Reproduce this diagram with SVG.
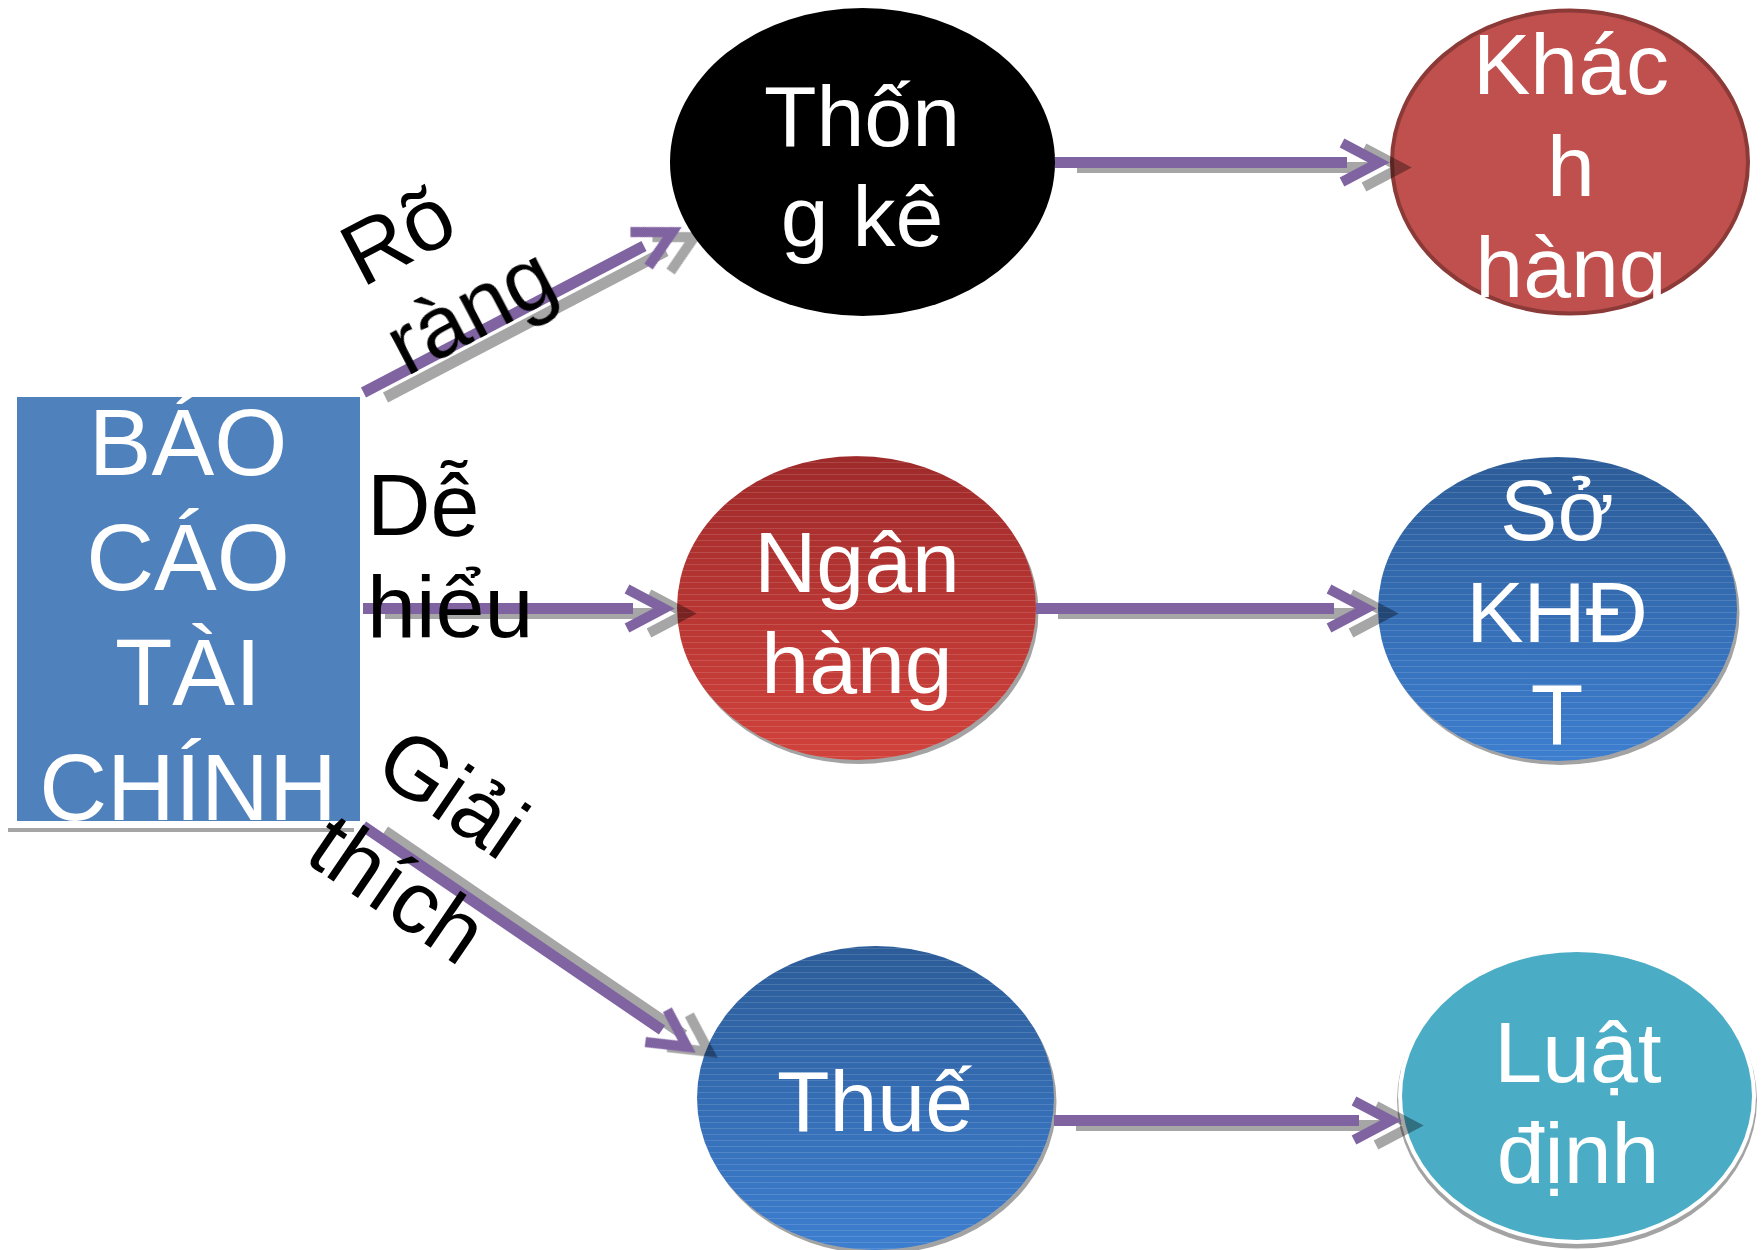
<svg xmlns="http://www.w3.org/2000/svg" xmlns:xlink="http://www.w3.org/1999/xlink" width="1764" height="1250" viewBox="0 0 1764 1250">
<defs>
<style>
.lbl{font-family:"Liberation Sans",Arial,sans-serif;font-size:88px;fill:#000}
.nt{font-family:"Liberation Sans",Arial,sans-serif;font-size:86px;fill:#fff;text-anchor:middle}
.bt{font-family:"Liberation Sans",Arial,sans-serif;font-size:94px;fill:#fff;text-anchor:middle}
.ln{stroke:#8064a2;stroke-width:11;fill:none}
.ch{stroke:#8064a2;stroke-width:10;fill:none;stroke-linejoin:miter;stroke-miterlimit:10}
.sh{opacity:0.35}
.sh line{stroke:#000;stroke-width:11;fill:none}
.sh use{stroke:#000;stroke-width:10;fill:none;stroke-linejoin:miter;stroke-miterlimit:10}
.shd{fill:#a3a3a3}
</style>
<path id="chev" d="M-48,-19.5 L-11,0 L-48,19.5"/>
<linearGradient id="gRed" x1="0" y1="0" x2="0" y2="1">
<stop offset="0" stop-color="#9e2a2a"/>
<stop offset="1" stop-color="#d1423c"/>
</linearGradient>
<linearGradient id="gBlue" x1="0" y1="0" x2="0" y2="1">
<stop offset="0" stop-color="#2c5c98"/>
<stop offset="1" stop-color="#3d7ecf"/>
</linearGradient>
<pattern id="stripes" patternUnits="userSpaceOnUse" width="12" height="6">
<rect x="0" y="0" width="12" height="1" fill="#fff" fill-opacity="0.13"/>
</pattern>
<clipPath id="clipKH">
<rect x="1380" y="0" width="384" height="303"/>
</clipPath>
</defs>

<g id="node-bctc">
<rect x="8" y="828" width="346" height="4" fill="#a5a5a5"/>
<rect x="17" y="397" width="343" height="424" fill="#4f81bd"/>
<text class="bt" x="188" y="475">BÁO</text>
<text class="bt" x="188" y="590">CÁO</text>
<text class="bt" x="188" y="705">TÀI</text>
<text class="bt" x="188" y="820">CHÍNH</text>
</g>

<g id="node-thongke">
<ellipse cx="862.5" cy="162" rx="192.5" ry="154" fill="#000"/>
<text class="nt" x="862" y="146">Thốn</text>
<text class="nt" x="862" y="246">g kê</text>
</g>

<g id="node-khachhang">
<ellipse cx="1570" cy="162" rx="178" ry="151.5" fill="#c0504d" stroke="#8c3a38" stroke-width="4"/>
<g clip-path="url(#clipKH)">
<text class="nt" x="1571" y="94">Khác</text>
<text class="nt" x="1571" y="196">h</text>
<text class="nt" x="1571" y="297">hàng</text>
</g>
</g>

<g id="node-nganhang">
<ellipse class="shd" cx="859" cy="612" rx="179.5" ry="152"/>
<ellipse cx="856.5" cy="608" rx="179.5" ry="152" fill="url(#gRed)"/>
<ellipse cx="856.5" cy="608" rx="179.5" ry="152" fill="url(#stripes)"/>
<text class="nt" x="857" y="592">Ngân</text>
<text class="nt" x="857" y="693">hàng</text>
</g>

<g id="node-sokhdt">
<ellipse class="shd" cx="1560" cy="613" rx="179.5" ry="152"/>
<ellipse cx="1557.5" cy="609" rx="179.5" ry="152" fill="url(#gBlue)"/>
<ellipse cx="1557.5" cy="609" rx="179.5" ry="152" fill="url(#stripes)"/>
<text class="nt" x="1557" y="540">Sở</text>
<text class="nt" x="1557" y="642">KHĐ</text>
<text class="nt" x="1557" y="744">T</text>
</g>

<g id="node-thue">
<ellipse class="shd" cx="878" cy="1102" rx="178.5" ry="152"/>
<ellipse cx="875.5" cy="1098" rx="178.5" ry="152" fill="url(#gBlue)"/>
<ellipse cx="875.5" cy="1098" rx="178.5" ry="152" fill="url(#stripes)"/>
<text class="nt" x="875" y="1131">Thuế</text>
</g>

<g id="node-luatdinh">
<ellipse cx="1577" cy="1100" rx="180" ry="148.5" fill="#a3a3a3"/>
<ellipse cx="1577" cy="1096" rx="179" ry="148" fill="#fff"/>
<ellipse cx="1577" cy="1096" rx="175" ry="144" fill="#4bacc6"/>
<text class="nt" x="1578" y="1082">Luật</text>
<text class="nt" x="1578" y="1183">định</text>
</g>

<g id="connectors">
<g id="conn-roirang">
<g class="sh" transform="translate(22,5)">
<line x1="363.5" y1="392.5" x2="644" y2="246"/>
<use xlink:href="#chev" transform="translate(682,227) rotate(-27.7)"/>
</g>
<line class="ln" x1="363.5" y1="392.5" x2="644" y2="246"/>
<use class="ch" xlink:href="#chev" transform="translate(682,227) rotate(-27.7)"/>
</g>
<g id="conn-dehieu">
<g class="sh" transform="translate(22,5)">
<line x1="363" y1="608.5" x2="633" y2="608.5"/>
<use xlink:href="#chev" transform="translate(675,608.5)"/>
</g>
<line class="ln" x1="363" y1="608.5" x2="633" y2="608.5"/>
<use class="ch" xlink:href="#chev" transform="translate(675,608.5)"/>
</g>
<g id="conn-giaithich">
<g class="sh" transform="translate(22,5)">
<line x1="363" y1="826" x2="662" y2="1030"/>
<use xlink:href="#chev" transform="translate(696,1053) rotate(34.3)"/>
</g>
<line class="ln" x1="363" y1="826" x2="662" y2="1030"/>
<use class="ch" xlink:href="#chev" transform="translate(696,1053) rotate(34.3)"/>
</g>
<g id="conn-tk-kh">
<g class="sh" transform="translate(22,5)">
<line x1="1055" y1="162.5" x2="1347" y2="162.5"/>
<use xlink:href="#chev" transform="translate(1390,162.5)"/>
</g>
<line class="ln" x1="1055" y1="162.5" x2="1347" y2="162.5"/>
<use class="ch" xlink:href="#chev" transform="translate(1390,162.5)"/>
</g>
<g id="conn-nh-so">
<g class="sh" transform="translate(22,5)">
<line x1="1036" y1="608.5" x2="1334" y2="608.5"/>
<use xlink:href="#chev" transform="translate(1377,608.5)"/>
</g>
<line class="ln" x1="1036" y1="608.5" x2="1334" y2="608.5"/>
<use class="ch" xlink:href="#chev" transform="translate(1377,608.5)"/>
</g>
<g id="conn-thue-luat">
<g class="sh" transform="translate(22,5)">
<line x1="1054" y1="1120.5" x2="1359" y2="1120.5"/>
<use xlink:href="#chev" transform="translate(1402,1120.5)"/>
</g>
<line class="ln" x1="1054" y1="1120.5" x2="1359" y2="1120.5"/>
<use class="ch" xlink:href="#chev" transform="translate(1402,1120.5)"/>
</g>
<g id="labels">
<text class="lbl" transform="translate(362,288) rotate(-27.7)">Rõ</text>
<text class="lbl" transform="translate(406,377) rotate(-27.7)">ràng</text>
<text class="lbl" x="367" y="535">Dễ</text>
<text class="lbl" x="367" y="637">hiểu</text>
<text class="lbl" transform="translate(371,774) rotate(34.3)">Giải</text>
<text class="lbl" transform="translate(302,860) rotate(34.3)">thích</text>
</g>
</g>
</svg>
